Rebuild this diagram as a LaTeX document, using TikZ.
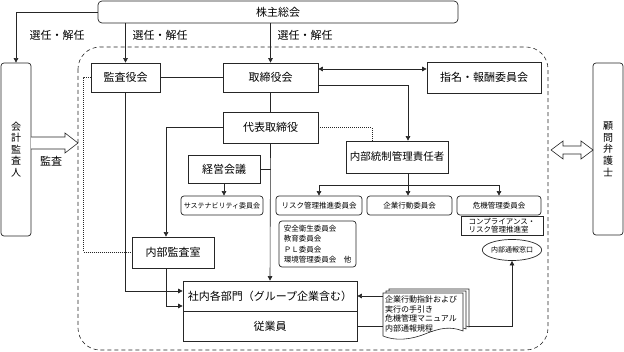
\documentclass[tikz,border=0pt]{standalone}
\usepackage{fontspec}
\setmainfont{Noto Sans CJK JP}
\usetikzlibrary{arrows.meta,shapes.geometric,calc}
\begin{document}
\begin{tikzpicture}[x=1pt,y=-1pt,
  bx/.style={draw=black!85,line width=0.7pt,fill=white,inner sep=0pt,font=\fontsize{11}{13}\selectfont},
  sbx/.style={bx,rounded corners=3pt,font=\fontsize{7.5}{9}\selectfont},
  ln/.style={draw=black!85,line width=0.6pt},
  arr/.style={ln,-{Triangle[length=4.5pt,width=4.5pt]}},
  dbl/.style={ln,{Triangle[length=4.5pt,width=4.5pt]}-{Triangle[length=4.5pt,width=4.5pt]}},
  dotl/.style={ln,dash pattern=on 1pt off 1pt},
  lbl/.style={inner sep=0pt,font=\fontsize{11}{13}\selectfont}]
\useasboundingbox (0,0) rectangle (624,352);

% big dashed frame
\draw[ln,dash pattern=on 4pt off 3pt,rounded corners=22pt] (78,47) rectangle (548,350);

% top
\node[bx,rounded corners=4pt,minimum width=360pt,minimum height=22pt] (kabu) at (278,12) {株主総会};
\node[bx,rounded corners=3pt,minimum width=30pt,minimum height=173pt,align=center,font=\fontsize{10}{11.6}\selectfont] (kaikei) at (16,149.5) {会\\計\\監\\査\\人};
\node[bx,rounded corners=3pt,minimum width=30pt,minimum height=172pt,align=center,font=\fontsize{10}{11.6}\selectfont] (komon) at (608,149) {顧\\問\\弁\\護\\士};

\node[bx,minimum width=69pt,minimum height=29pt] (kansa) at (125.5,77.5) {監査役会};
\node[bx,minimum width=95pt,minimum height=29pt] (tori) at (270.5,77.5) {取締役会};
\node[bx,minimum width=114pt,minimum height=31pt] (shimei) at (484,77.5) {指名・報酬委員会};
\node[bx,minimum width=95pt,minimum height=31pt] (daihyo) at (270.5,127.5) {代表取締役};
\node[bx,minimum width=72pt,minimum height=28pt] (keiei) at (224,169) {経営会議};
\node[bx,minimum width=102pt,minimum height=32pt,font=\fontsize{10.5}{12}\selectfont] (tousei) at (397,157) {内部統制管理責任者};

\node[sbx,minimum width=82pt,minimum height=19pt,font=\fontsize{7}{9}\selectfont] (sus) at (222,205.5) {サステナビリティ委員会};
\node[sbx,minimum width=86pt,minimum height=19pt] (risk) at (319,205.5) {リスク管理推進委員会};
\node[sbx,minimum width=85pt,minimum height=19pt] (kigyo) at (409.5,205.5) {企業行動委員会};
\node[sbx,minimum width=84pt,minimum height=19pt] (kiki) at (499,205.5) {危機管理委員会};
\node[bx,minimum width=82pt,minimum height=19pt,align=left,font=\fontsize{7.5}{8.5}\selectfont] (comp) at (502,225.5) {コンプライアンス・\\リスク管理推進室};
\node[bx,ellipse,minimum width=58pt,minimum height=21pt,font=\fontsize{7}{9}\selectfont] (tsuho) at (512,250) {内部通報窓口};
\node[sbx,minimum width=77pt,minimum height=46pt,align=left,inner sep=3pt,font=\fontsize{7.5}{10.5}\selectfont] (anzen) at (317.5,244) {安全衛生委員会\\教育委員会\\ＰＬ委員会\\環境管理委員会　他};

\node[bx,minimum width=82pt,minimum height=31pt] (nkansa) at (173,252.5) {内部監査室};
\node[bx,minimum width=174pt,minimum height=30pt] (shanai) at (270,296) {社内各部門（グループ企業含む）};
\node[bx,minimum width=174pt,minimum height=30pt] (jugyo) at (270,326) {従業員};

% documents
\foreach \dx/\dy in {6/-4,3/-2,0/0}{
\draw[ln,fill=white] (383+\dx,293+\dy) -- (463+\dx,293+\dy) -- (463+\dx,331+\dy)
  .. controls (450+\dx,326+\dy) and (440+\dx,328+\dy) .. (425+\dx,334+\dy)
  .. controls (410+\dx,340+\dy) and (395+\dx,341+\dy) .. (383+\dx,336+\dy) -- cycle;
}
\node[inner sep=0pt,minimum width=80pt,minimum height=42pt,text width=76pt,align=left,font=\fontsize{8}{9.5}\selectfont] (docs) at (423,314) {企業行動指針および\\実行の手引き\\危機管理マニュアル\\内部通報規程};

% labels
\node[lbl] (l1) at (57,35) {選任・解任};
\node[lbl] (l2) at (160,35) {選任・解任};
\node[lbl] (l3) at (305,35) {選任・解任};
\node[lbl] (l4) at (51,161) {監査};

% connectors
\draw[arr] (kabu.west) -| (kaikei.north);
\draw[arr] (kansa.north |- kabu.south) -- (kansa.north);
\draw[arr] (tori.north |- kabu.south) -- (tori.north);
\draw[ln] (kansa.east) -- (tori.west);
\draw[dbl] ([yshift=8.5pt]tori.east) -- ([yshift=8.5pt]tori.east -| shimei.west);
\draw[arr] ([yshift=-7.5pt]tori.east) -| ([xshift=11pt]tousei.north);
\draw[ln] (tori.south) -- (daihyo.north);
\draw[dotl] (daihyo.east) -| ([xshift=-25pt]tousei.north);
\draw[arr] (daihyo.west) -| ([xshift=-7pt]nkansa.north);
\draw[arr] (daihyo.south) -- (shanai.north);
\draw[ln] (keiei.east) -- (keiei.east -| daihyo.south);
\draw[arr] (keiei.south) -- (keiei.south |- sus.north);
\coordinate (bus) at (408,185);
\draw[ln] ([xshift=11pt]tousei.south) -- (bus);
\draw[arr] (bus) -| (risk.north);
\draw[arr] (bus) -| (kiki.north);
\draw[arr] (bus) -- (bus |- kigyo.north);
\draw[arr] (kansa.south) |- ([yshift=5pt]shanai.west);
\draw[arr] ([xshift=-7pt]nkansa.south) |- ([yshift=-10pt]shanai.west);
\draw[dotl] (kansa.west) -- ++(-7,0) |- (nkansa.west);
\draw[arr] (docs.west |- shanai.east) -- (shanai.east);
\draw[ln] (jugyo.east) -- (jugyo.east -| docs.west);
\draw[arr] ([xshift=6pt]docs.east |- jugyo.east) -| (tsuho.south);

% hollow arrows
\draw[ln,fill=white] (31,137) -- (65,137) -- (65,133) -- (78,143) -- (65,153) -- (65,149) -- (31,149);
\draw[ln,fill=white] (551,150) -- (563,141) -- (563,146) -- (581,146) -- (581,141) -- (593,150) -- (581,159) -- (581,154) -- (563,154) -- (563,159) -- cycle;
\end{tikzpicture}
\end{document}
